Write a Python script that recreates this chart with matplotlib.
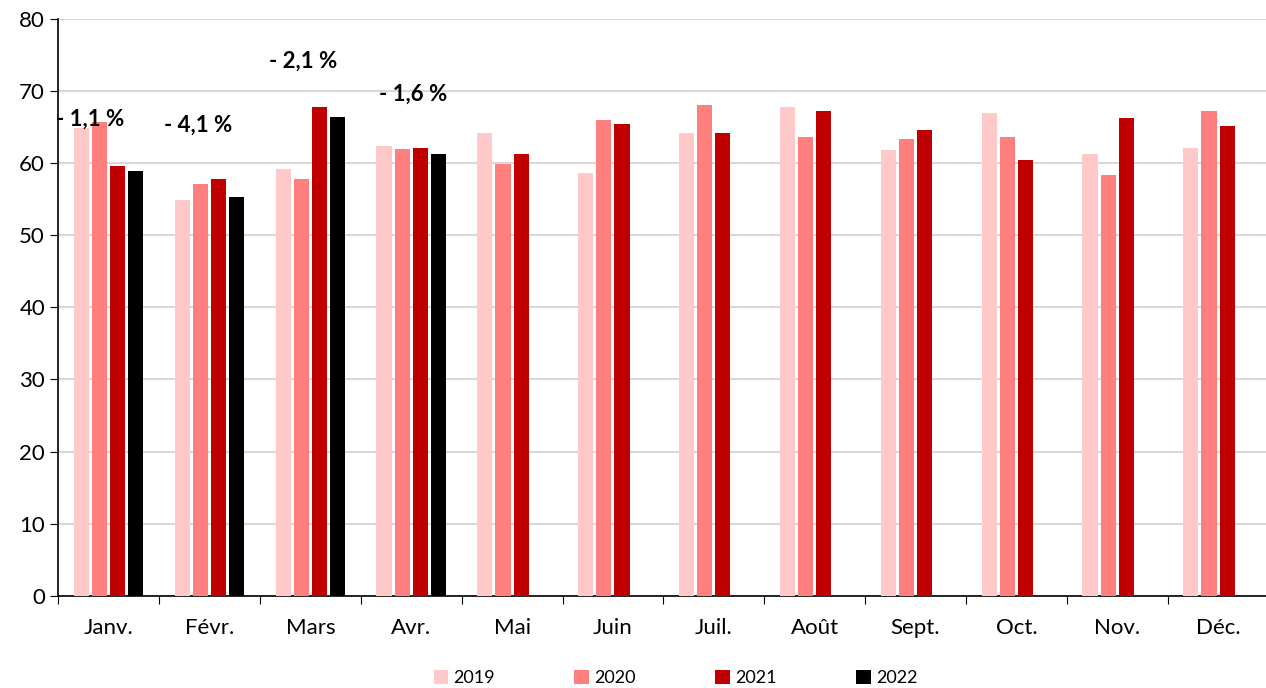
import matplotlib.pyplot as plt
import numpy as np

plt.rcParams['font.family'] = ['Lato', 'DejaVu Sans']

months = ["Janv.", "Févr.", "Mars", "Avr.", "Mai", "Juin", "Juil.", "Août",
          "Sept.", "Oct.", "Nov.", "Déc."]
years = ["2019", "2020", "2021", "2022"]
colors = ["#ffc9c9", "#ff7f7f", "#c00000", "#000000"]

v2019 = [64.8, 54.8, 59.2, 62.4, 64.2, 58.6, 64.2, 67.8, 61.8, 66.9, 61.2, 62.1]
v2020 = [65.6, 57.1, 57.7, 61.9, 59.8, 66.0, 68.0, 63.6, 63.3, 63.6, 58.3, 67.2]
v2021 = [59.5, 57.7, 67.7, 62.1, 61.2, 65.4, 64.2, 67.2, 64.5, 60.4, 66.2, 65.1]
v2022 = [58.9, 55.3, 66.3, 61.2]

changes = ["- 1,1 %", "- 4,1 %", "- 2,1 %", "- 1,6 %"]
label_x = [0.32, 1.39, 2.43, 3.52]
label_y = [66.0, 65.2, 74.1, 69.5]

series = [v2019, v2020, v2021, v2022]

fig = plt.figure(figsize=(12.66, 6.88), dpi=100)
ax = fig.add_axes([0.046, 0.134, 0.956, 0.839])

step = 0.18
width = 0.15
for i, (vals, col, yr) in enumerate(zip(series, colors, years)):
    x = np.arange(len(vals)) + 0.5 + (i - 1.5) * step
    ax.bar(x, vals, width=width, color=col, label=yr, zorder=3)

for t, xx, yy in zip(changes, label_x, label_y):
    ax.text(xx, yy, t, ha="center", va="center", fontsize=16,
            fontweight="bold", zorder=4)

ax.set_xlim(0, 12)
ax.set_ylim(0, 80)
ax.set_yticks(np.arange(0, 81, 10))
ax.set_xticks(np.arange(0, 13))
ax.set_xticklabels([])
ax.set_xticks(np.arange(12) + 0.5, minor=True)
ax.set_xticklabels(months, minor=True, fontsize=16)
ax.tick_params(axis="x", which="minor", length=0, pad=16)
ax.tick_params(axis="x", which="major", length=6, direction="out")
ax.tick_params(axis="y", labelsize=16, length=6, direction="out")
ax.yaxis.grid(True, color="#d9d9d9", linewidth=1.5, zorder=0)
ax.set_axisbelow(True)
for s in ["top", "right"]:
    ax.spines[s].set_visible(False)
for s in ["left", "bottom"]:
    ax.spines[s].set_linewidth(1.2)

ax.legend(loc="upper center", bbox_to_anchor=(0.51, -0.1), ncol=4,
          frameon=False, fontsize=13, handlelength=0.8, handleheight=0.8,
          handletextpad=0.3, columnspacing=4.4)

fig.savefig("out.png", dpi=100)
